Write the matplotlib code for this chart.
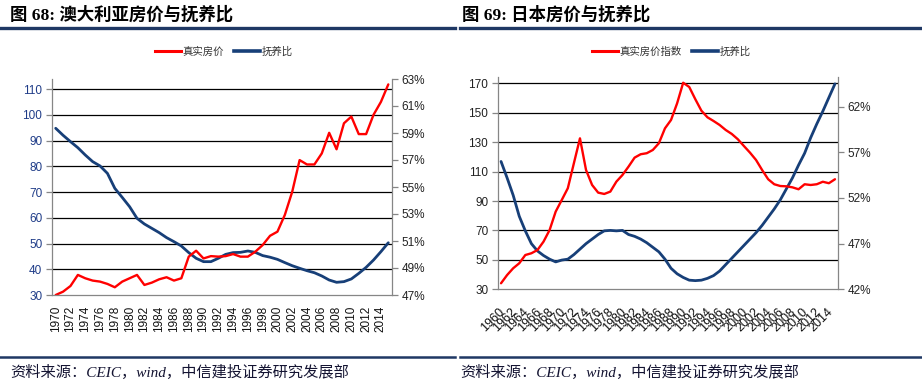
import matplotlib
matplotlib.use('Agg')
import matplotlib.pyplot as plt
from matplotlib.lines import Line2D

# data
aus_years = list(range(1970, 2016))
aus_price = [30.0, 31.3, 33.5, 37.8, 36.5, 35.6, 35.2, 34.3, 33.0, 35.2,
             36.5, 37.8, 33.9, 34.8, 36.1, 36.9, 35.6, 36.5, 44.9, 47.2,
             44.2, 45.1, 44.9, 45.1, 45.9, 44.9, 44.9, 46.8, 49.4, 53.0,
             54.6, 61.1, 70.1, 82.4, 80.7, 80.7, 85.0, 93.0, 86.6, 96.7,
             99.3, 92.5, 92.5, 100.0, 105.0, 111.8]
aus_dep = [59.35, 58.83, 58.36, 57.91, 57.37, 56.88, 56.56, 56.01, 54.90, 54.23,
           53.54, 52.68, 52.26, 51.94, 51.62, 51.25, 50.95, 50.63, 50.14, 49.72,
           49.47, 49.47, 49.72, 50.01, 50.14, 50.16, 50.26, 50.16, 49.92, 49.80,
           49.64, 49.40, 49.17, 48.98, 48.80, 48.65, 48.41, 48.11, 47.94, 47.99,
           48.19, 48.60, 49.05, 49.59, 50.21, 50.87]

jpn_years = list(range(1960, 2016))
jpn_price = [34.1, 39.7, 44.3, 47.7, 53.3, 54.5, 56.7, 62.4, 70.3, 82.8,
             90.7, 98.7, 115.7, 132.6, 111.1, 100.9, 95.7, 94.8, 96.4, 103.2,
             107.7, 113.4, 119.5, 121.8, 122.5, 124.7, 129.3, 139.4, 145.1, 156.4,
             170.4, 167.5, 159.2, 151.4, 146.9, 144.4, 141.7, 138.3, 135.6, 132.0,
             127.4, 122.9, 117.9, 111.1, 104.8, 101.4, 100.2, 100.0, 99.3, 98.0,
             101.4, 100.9, 101.4, 103.1, 102.1, 104.8]
jpn_dep = [56.0, 54.2, 52.3, 50.0, 48.4, 47.0, 46.2, 45.7, 45.3, 45.0,
           45.2, 45.3, 45.8, 46.4, 47.0, 47.5, 48.0, 48.4, 48.45, 48.4,
           48.45, 48.0, 47.8, 47.5, 47.1, 46.6, 46.1, 45.3, 44.3, 43.7,
           43.3, 43.0, 42.95, 43.0, 43.2, 43.5, 44.0, 44.7, 45.4, 46.1,
           46.8, 47.5, 48.2, 49.0, 49.9, 50.8, 51.8, 53.0, 54.2, 55.6,
           56.9, 58.6, 60.1, 61.5, 63.0, 64.5]

aus_left_ticks = [30, 40, 50, 60, 70, 80, 90, 100, 110]
aus_right_ticks = [47, 49, 51, 53, 55, 57, 59, 61, 63]
jpn_left_ticks = [30, 50, 70, 90, 110, 130, 150, 170]
jpn_right_ticks = [42, 47, 52, 57, 62]

RED = '#FF0000'
BLUE = '#173F78'
AXIS = '#868686'
NAVY = '#1F3864'
CJK = ['Noto Sans CJK SC', 'DejaVu Sans']
NUM = 'Liberation Sans'

fig = plt.figure(figsize=(9.22, 3.9), dpi=100)


def panel(rect, years, price, dep, lticks, rticks, lylim, rylim,
          every_tick, lab_color, price_label, legend_x):
    ax = fig.add_axes(rect)
    ax2 = ax.twinx()
    ax.set_zorder(ax2.get_zorder() + 1)
    ax.patch.set_visible(False)

    ax2.plot(years, dep, color=BLUE, lw=2.0, solid_capstyle='round')
    ax.plot(years, price, color=RED, lw=1.7, solid_capstyle='round')
    ax.set_xlim(years[0] - 0.5, years[-1] + 0.5)
    ax2.set_xlim(years[0] - 0.5, years[-1] + 0.5)
    ax.set_ylim(*lylim)
    ax2.set_ylim(*rylim)

    # horizontal grid lines in the left scale (drawn behind both series)
    for v in lticks[1:]:
        ax2.axhline(rylim[0] + (v - lylim[0]) / (lylim[1] - lylim[0]) * (rylim[1] - rylim[0]),
                    color='black', lw=0.9, zorder=0)

    ax.set_yticks(lticks)
    ax.set_yticklabels([str(v) for v in lticks], fontfamily=NUM, fontsize=8.5,
                       color=lab_color)
    ax2.set_yticks(rticks)
    ax2.set_yticklabels(['%d%%' % v for v in rticks], fontfamily=NUM,
                        fontsize=8.5, color='#222222')

    # category axis: ticks between categories
    edges = [years[0] - 0.5 + every_tick * i for i in range(len(years) // every_tick + 1)]
    ax.set_xticks(edges)
    ax.set_xticklabels([])
    ax.tick_params(axis='x', length=4, color=AXIS, width=0.9)
    ax.tick_params(axis='y', length=4, color=AXIS, width=0.9, pad=3)
    ax2.tick_params(axis='y', length=4, color=AXIS, width=0.9, pad=3)
    ax2.set_xticks([])

    for a in (ax, ax2):
        a.spines['top'].set_visible(False)
        for s in ('left', 'right', 'bottom'):
            a.spines[s].set_color(AXIS)
            a.spines[s].set_linewidth(0.9)
    ax.spines['right'].set_visible(False)
    ax2.spines['left'].set_visible(False)
    ax2.spines['bottom'].set_visible(False)

    fig.legend([Line2D([], [], color=RED, lw=2.2), Line2D([], [], color=BLUE, lw=2.6)],
               [price_label, '抚养比'], loc='center', ncol=2,
               bbox_to_anchor=(legend_x, 0.867), frameon=False,
               prop={'family': CJK, 'size': 7.5}, handlelength=2.5,
               handletextpad=0.15, columnspacing=1.0, labelcolor='#333333')
    return ax


ax_a = panel([52 / 922, 95 / 390, 340 / 922, 216 / 390], aus_years, aus_price, aus_dep,
             aus_left_ticks, aus_right_ticks, (30, 113.9), (47, 63), 1, '#1F3C88',
             '真实房价', 0.243)
for y in aus_years[::2]:
    ax_a.text(y, -0.05, str(y), transform=ax_a.get_xaxis_transform(),
              rotation=90, ha='center', va='top', fontsize=8.5, fontfamily=NUM,
              color='#111111')

ax_j = panel([498 / 922, 100.7 / 390, 340 / 922, 212.3 / 390], jpn_years, jpn_price, jpn_dep,
             jpn_left_ticks, jpn_right_ticks, (30, 174.3), (42, 65.25), 2, '#222222',
             '真实房价指数', 0.728)
for y in jpn_years[::2]:
    ax_j.text(y + 0.3, -0.1, str(y), transform=ax_j.get_xaxis_transform(),
              rotation=45, ha='right', va='center', rotation_mode='anchor',
              fontsize=9, fontfamily=NUM, color='#111111')

# titles, rules and source lines
title_font = ['Liberation Serif', 'Noto Sans CJK SC']
fig.text(10 / 922, 1 - 15 / 390, '图 68: 澳大利亚房价与抚养比', fontsize=12.5,
         fontweight='bold', family=title_font, va='center')
fig.text(462 / 922, 1 - 15 / 390, '图 69: 日本房价与抚养比', fontsize=12.5,
         fontweight='bold', family=title_font, va='center')
fig.add_artist(Line2D([0, 455 / 922], [1 - 28 / 390] * 2, color=NAVY, lw=2.4))
fig.add_artist(Line2D([460 / 922, 1], [1 - 28 / 390] * 2, color=NAVY, lw=2.4))
fig.add_artist(Line2D([0, 455 / 922], [1 - 357 / 390] * 2, color=NAVY, lw=1.8))
fig.add_artist(Line2D([460 / 922, 1], [1 - 357 / 390] * 2, color=NAVY, lw=1.8))

src = '资料来源：CEIC，wind，中信建投证券研究发展部'
fig.text(10 / 922, 1 - 372 / 390, src, fontsize=11, style='italic',
         family=title_font, va='center', color='#141432')
fig.text(460 / 922, 1 - 372 / 390, src, fontsize=11, style='italic',
         family=title_font, va='center', color='#141432')

fig.savefig('out.png', dpi=100)
